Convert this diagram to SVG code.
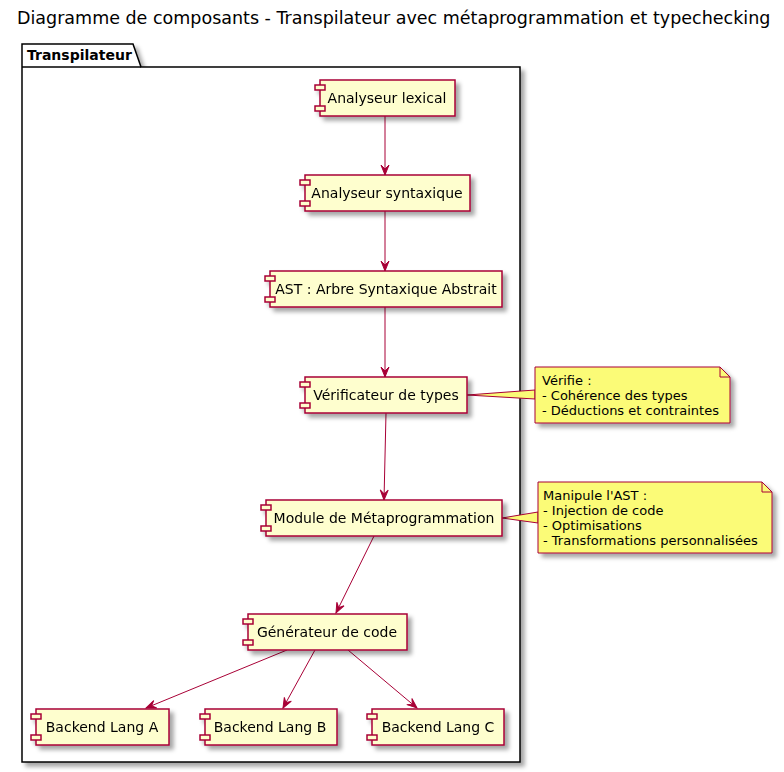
<svg xmlns="http://www.w3.org/2000/svg" width="784" height="772" viewBox="0 0 784 772">
<defs>
<filter id="sh" x="-10%" y="-10%" width="130%" height="140%">
<feDropShadow dx="4" dy="4" stdDeviation="2" flood-color="#000" flood-opacity="0.35"/>
</filter>
<marker id="arr" viewBox="-11 -5 12 10" refX="0" refY="0" markerWidth="12" markerHeight="10" markerUnits="userSpaceOnUse" orient="auto">
<path d="M0,0 L-10,-4 L-6,0 L-10,4 Z" fill="#A80036" stroke="#A80036" stroke-width="1"/>
</marker>
</defs>
<style>
.t{font-family:"DejaVu Sans",sans-serif;fill:#000}
.comp rect.b{fill:#FEFECE;stroke:#A80036;stroke-width:1.5}
.comp rect.s{fill:#FEFECE;stroke:#A80036;stroke-width:1.5}
.comp text{font-family:"DejaVu Sans",sans-serif;font-size:14px;text-anchor:middle}
.note path.b{fill:#FBFB77;stroke:#A80036;stroke-width:1}
.note text{font-family:"DejaVu Sans",sans-serif;font-size:13px}
.e{stroke:#A80036;stroke-width:1;fill:none;marker-end:url(#arr)}
.nl{fill:#FBFB77;stroke:#A80036;stroke-width:1}
</style>
<rect width="784" height="772" fill="#fff"/>
<text class="t" x="17" y="24" font-size="17.5">Diagramme de composants - Transpilateur avec métaprogrammation et typechecking</text>

<g id="pkg">
<path d="M22,44 L133,44 L141,67 L520,67 L520,762 L22,762 Z" fill="#fff" stroke="#000" stroke-width="1.5" filter="url(#sh)"/>
<line x1="22" y1="67" x2="141" y2="67" stroke="#000" stroke-width="1.5"/>
<text class="t" x="27" y="60" font-size="14" font-weight="bold">Transpilateur</text>
</g>

<g id="edges">
<line class="e" x1="385" y1="116" x2="385" y2="175"/>
<line class="e" x1="385" y1="211" x2="385" y2="271"/>
<line class="e" x1="385" y1="307" x2="385" y2="377"/>
<line class="e" x1="386" y1="413" x2="384" y2="500"/>
<line class="e" x1="374" y1="536" x2="336" y2="613"/>
<line class="e" x1="287" y1="650" x2="146" y2="708"/>
<line class="e" x1="315" y1="650" x2="283" y2="708"/>
<line class="e" x1="348" y1="650" x2="417" y2="708"/>
<polygon class="nl" points="467,395 535,390 535,399"/>
<polygon class="nl" points="502,518 538,512 538,523"/>
</g>

<g id="lex" class="comp" filter="url(#sh)">
<rect class="b" x="320" y="80" width="135" height="36"/>
<rect class="s" x="315" y="85" width="10" height="5"/>
<rect class="s" x="315" y="106" width="10" height="5"/>
<text x="387" y="103">Analyseur lexical</text>
</g>
<g id="syn" class="comp" filter="url(#sh)">
<rect class="b" x="305" y="175" width="165" height="36"/>
<rect class="s" x="300" y="180" width="10" height="5"/>
<rect class="s" x="300" y="201" width="10" height="5"/>
<text x="387" y="198">Analyseur syntaxique</text>
</g>
<g id="ast" class="comp" filter="url(#sh)">
<rect class="b" x="270" y="271" width="232" height="36"/>
<rect class="s" x="265" y="276" width="10" height="5"/>
<rect class="s" x="265" y="297" width="10" height="5"/>
<text x="386" y="294">AST : Arbre Syntaxique Abstrait</text>
</g>
<g id="ver" class="comp" filter="url(#sh)">
<rect class="b" x="305" y="377" width="162" height="36"/>
<rect class="s" x="300" y="382" width="10" height="5"/>
<rect class="s" x="300" y="403" width="10" height="5"/>
<text x="386" y="400">Vérificateur de types</text>
</g>
<g id="meta" class="comp" filter="url(#sh)">
<rect class="b" x="266" y="500" width="236" height="36"/>
<rect class="s" x="261" y="505" width="10" height="5"/>
<rect class="s" x="261" y="526" width="10" height="5"/>
<text x="384" y="523">Module de Métaprogrammation</text>
</g>
<g id="gen" class="comp" filter="url(#sh)">
<rect class="b" x="248" y="614" width="159" height="36"/>
<rect class="s" x="243" y="619" width="10" height="5"/>
<rect class="s" x="243" y="640" width="10" height="5"/>
<text x="327" y="637">Générateur de code</text>
</g>
<g id="bA" class="comp" filter="url(#sh)">
<rect class="b" x="36" y="709" width="133" height="36"/>
<rect class="s" x="31" y="714" width="10" height="5"/>
<rect class="s" x="31" y="735" width="10" height="5"/>
<text x="102" y="732">Backend Lang A</text>
</g>
<g id="bB" class="comp" filter="url(#sh)">
<rect class="b" x="205" y="709" width="132" height="36"/>
<rect class="s" x="200" y="714" width="10" height="5"/>
<rect class="s" x="200" y="735" width="10" height="5"/>
<text x="270" y="732">Backend Lang B</text>
</g>
<g id="bC" class="comp" filter="url(#sh)">
<rect class="b" x="372" y="709" width="132" height="36"/>
<rect class="s" x="367" y="714" width="10" height="5"/>
<rect class="s" x="367" y="735" width="10" height="5"/>
<text x="438" y="732">Backend Lang C</text>
</g>

<g id="note1" class="note">
<path class="b" d="M535,367 L720,367 L730,377 L730,423 L535,423 Z" filter="url(#sh)"/>
<path d="M720,367 L720,377 L730,377" fill="none" stroke="#A80036" stroke-width="1"/>
<text x="542" y="385">Vérifie :</text>
<text x="542" y="400">- Cohérence des types</text>
<text x="542" y="415">- Déductions et contraintes</text>
</g>
<g id="note2" class="note">
<path class="b" d="M538,482 L762,482 L772,492 L772,553 L538,553 Z" filter="url(#sh)"/>
<path d="M762,482 L762,492 L772,492" fill="none" stroke="#A80036" stroke-width="1"/>
<text x="543" y="500">Manipule l'AST :</text>
<text x="543" y="515">- Injection de code</text>
<text x="543" y="530">- Optimisations</text>
<text x="543" y="545">- Transformations personnalisées</text>
</g>
</svg>
